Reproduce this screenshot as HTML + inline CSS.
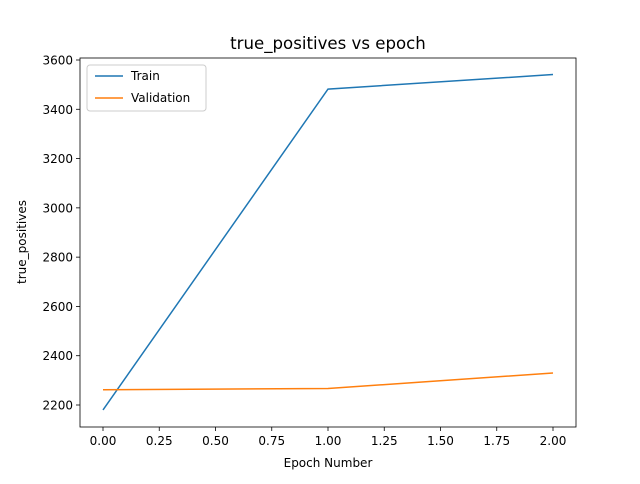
<!DOCTYPE html>
<html><head><meta charset="utf-8"><style>
body{margin:0;background:#fff;font-family:"DejaVu Sans","Liberation Sans",sans-serif;}
svg text{font-family:"DejaVu Sans","Liberation Sans",sans-serif;fill:#000;}
</style></head><body>
<svg id="chart" width="640" height="480" xmlns="http://www.w3.org/2000/svg"></svg>
<script>
const epochs=[0,1,2];
const trainValues=[2180,3482,3541];
const valValues=[2262,2267,2330];
const xTicks=[0,0.25,0.5,0.75,1.0,1.25,1.5,1.75,2.0];
const xTickLabels=["0.00","0.25","0.50","0.75","1.00","1.25","1.50","1.75","2.00"];
const yTicks=[2200,2400,2600,2800,3000,3200,3400,3600];
const L=80,R=576,T=58,B=427;
const xs=v=>103+v*225;
const ys=v=>405-(v-2200)*0.24643;
const svg=document.getElementById('chart');
const NS='http://www.w3.org/2000/svg';
function mk(tag,attrs,parent){const e=document.createElementNS(NS,tag);for(const k in attrs)e.setAttribute(k,attrs[k]);(parent||svg).appendChild(e);return e;}
let t=mk('text',{x:328,y:49,'font-size':'16.6','text-anchor':'middle'});t.textContent='true_positives vs epoch';


xTicks.forEach((v,i)=>{const x=xs(v);mk('line',{x1:x,x2:x,y1:B,y2:B+4,stroke:'#000','stroke-width':0.8});
 const tx=mk('text',{x:x,y:B+18,'font-size':'12','text-anchor':'middle'});tx.textContent=xTickLabels[i];
 
 });
yTicks.forEach(v=>{const y=ys(v);mk('line',{x1:L-4,x2:L,y1:y,y2:y,stroke:'#000','stroke-width':0.8});
 const tx=mk('text',{x:L-7,y:y+4.5,'font-size':'12','text-anchor':'end'});tx.textContent=v;
 
 });
t=mk('text',{x:328,y:467,'font-size':'12','text-anchor':'middle'});t.textContent='Epoch Number';


t=mk('text',{x:26,y:242,'font-size':'12','text-anchor':'middle',transform:'rotate(-90 26 242)'});t.textContent='true_positives';


function line(vals,color,name){const p=mk('polyline',{points:epochs.map((e,i)=>xs(e)+','+ys(vals[i])).join(' '),fill:'none',stroke:color,'stroke-width':1.5});
 
 }
line(trainValues,'#1f77b4','train-line');
line(valValues,'#ff7f0e','validation-line');
const f=mk('rect',{x:L,y:T,width:R-L,height:B-T,fill:'none',stroke:'#000','stroke-width':0.8});


const g=mk('g',{});


mk('rect',{x:87,y:65,width:119,height:46,rx:3,fill:'#fff',stroke:'#ccc','stroke-width':1},g);
mk('line',{x1:95,x2:123,y1:76,y2:76,stroke:'#1f77b4','stroke-width':1.5},g);
mk('line',{x1:95,x2:123,y1:98,y2:98,stroke:'#ff7f0e','stroke-width':1.5},g);
t=mk('text',{x:131,y:80,'font-size':'12'},g);t.textContent='Train';


t=mk('text',{x:131,y:102,'font-size':'12'},g);t.textContent='Validation';


</script>
</body></html>
